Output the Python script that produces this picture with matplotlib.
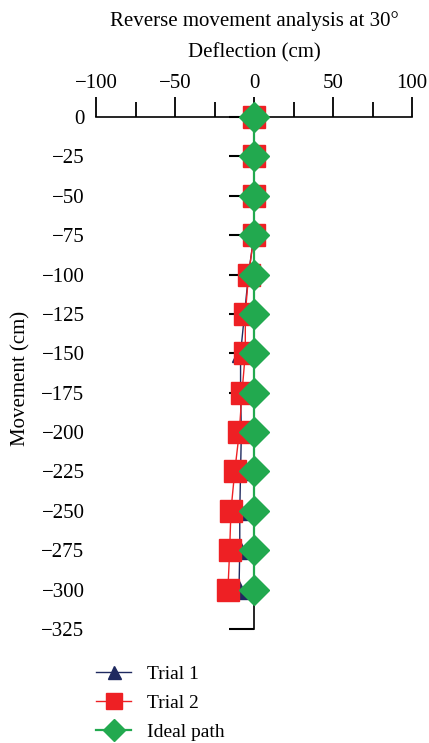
import numpy as np
import matplotlib
matplotlib.use("Agg")
from matplotlib import pyplot as plt

plt.rcParams["font.family"] = ["Liberation Serif", "DejaVu Serif"]

movement = [0, -25, -50, -75, -100, -125, -150, -175, -200, -225, -250, -275, -300]
trial1 = [0, 0, 0, 0, -3.5, -6, -8.5, -8.5, -8, -8.5, -9, -9, -9.5]
trial2 = [0, 0, 0, 0, -3.4, -5.5, -5.5, -7.6, -9.3, -12.2, -14.6, -15.4, -16.5]
ideal = [0] * len(movement)

yticks = np.arange(0, -326, -25)

fig = plt.figure(figsize=(4.29, 7.43), dpi=100)
ax = fig.add_axes([96 / 429, 1 - 629 / 743, 316 / 429, 512 / 743])

style = dict(clip_on=False, zorder=3)
ax.plot(trial1, movement, color="#1f2a60", lw=1.0, marker="^", ms=13,
        label="Trial 1", **style)
ax.plot(trial2, movement, color="#ee2024", lw=1.0, marker="s", ms=15.8,
        label="Trial 2", **style)
ax.plot(ideal, movement, color="#22a94f", lw=1.6, marker="D", ms=15.3,
        label="Ideal path", **style)

ax.set_xlim(-100, 100)
ax.set_ylim(-325, 0)

# x axis on top, y spine through x = 0
ax.xaxis.tick_top()
ax.xaxis.set_label_position("top")
ax.spines["bottom"].set_visible(False)
ax.spines["right"].set_visible(False)
ax.spines["left"].set_position(("data", 0))
ax.spines["top"].set_linewidth(1.2)
ax.spines["left"].set_linewidth(1.2)

fs = 15
ax.set_xticks([-100, -50, 0, 50, 100])
ax.set_xticks([-75, -25, 25, 75], minor=True)
ax.tick_params(axis="x", which="major", direction="out", length=14.4, width=1.3,
               labelsize=fs, pad=3)
ax.tick_params(axis="x", which="minor", direction="out", length=10.8, width=1.3)

ax.set_yticks(yticks)
ax.tick_params(axis="y", direction="out", length=18, width=1.5,
               labelsize=fs, pad=104)

ax.set_xlabel("Deflection (cm)", fontsize=fs, labelpad=12)
ax.set_ylabel("Movement (cm)", fontsize=fs)
ax.yaxis.set_label_coords(-0.206, 0.49)
ax.set_title("Reverse movement analysis at 30°", fontsize=fs, pad=12)

fig.legend(loc="upper left", bbox_to_anchor=(96 / 429, 1 - 665 / 743),
           frameon=False, fontsize=14, borderpad=0, borderaxespad=0,
           handlelength=1.8, handletextpad=0.8, labelspacing=0.6,
           markerscale=0.72)

fig.savefig("out.png", dpi=100)
